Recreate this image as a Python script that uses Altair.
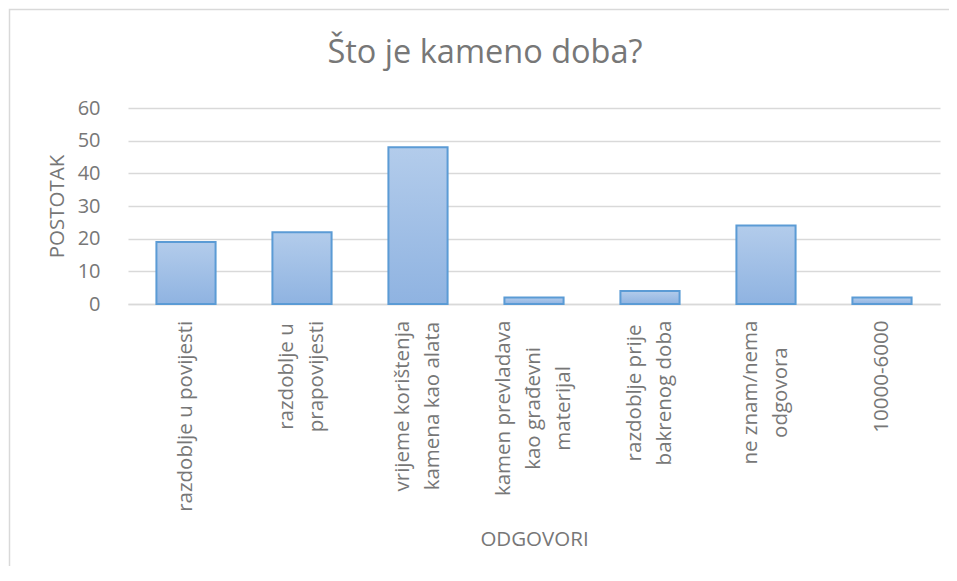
import altair as alt
import pandas as pd

# --- data ---
label_lines = [
    ["razdoblje u povijesti"],
    ["razdoblje u", "prapovijesti"],
    ["vrijeme korištenja", "kamena kao alata"],
    ["kamen prevladava", "kao građevni", "materijal"],
    ["razdoblje prije", "bakrenog doba"],
    ["ne znam/nema", "odgovora"],
    ["10000-6000"],
]
values = [19, 22, 48, 2, 4, 24, 2]
y_ticks = [0, 10, 20, 30, 40, 50, 60]

answers = ["|".join(l) for l in label_lines]
df = pd.DataFrame({"answer": answers, "value": values})

FONT = "Open Sans"
TXT = "#777777"
GRID = "#d9d9d9"
LINE_H = 30
LABEL_SIZE = 20.5
LABEL_GAP = 16

# approximate Open Sans advance widths (em), used to top-align the centred label blocks
_W = {
    "a": .556, "b": .613, "c": .480, "d": .613, "e": .561, "f": .336, "g": .546,
    "h": .614, "i": .258, "j": .258, "k": .529, "l": .258, "m": .930, "n": .614,
    "o": .602, "p": .613, "r": .408, "s": .479, "t": .353, "u": .614, "v": .500,
    "z": .463, " ": .260, "/": .371, "đ": .613, "š": .479, "-": .322,
}


def _width(s):
    return sum(_W.get(c, .572) for c in s) * LABEL_SIZE


n_lines = "length(split(datum.label, '|'))"
label_offset = {
    "condition": [
        {"test": f"{n_lines} == 2", "value": -LINE_H / 2},
        {"test": f"{n_lines} == 3", "value": -LINE_H},
    ],
    "value": 0,
}
label_padding = {
    "condition": [
        {"test": f"datum.value == '{a}'",
         "value": round(LABEL_GAP + max(_width(s) for s in l) / 2, 1)}
        for a, l in zip(answers, label_lines)
    ],
    "value": LABEL_GAP,
}

gradient = alt.Gradient(
    gradient="linear",
    stops=[
        alt.GradientStop(color="#b3cceb", offset=0),
        alt.GradientStop(color="#8fb3e1", offset=1),
    ],
    x1=0, x2=0, y1=0, y2=1,
)

bars = alt.Chart(df).mark_bar(color=gradient, stroke="#5b9bd5", strokeWidth=2).encode(
    x=alt.X(
        "answer:N",
        sort=None,
        scale=alt.Scale(paddingInner=0.49, paddingOuter=0.245),
        axis=alt.Axis(
            title="ODGOVORI",
            labelAngle=270,
            labelAlign="center",
            labelBaseline="middle",
            labelExpr="split(datum.label, '|')",
            labelOffset=label_offset,
            labelPadding=label_padding,
            labelLimit=500,
            labelLineHeight=LINE_H,
            labelFont=FONT,
            labelFontSize=LABEL_SIZE,
            labelColor=TXT,
            ticks=False,
            domainColor=GRID,
            domainWidth=1.5,
            titleFont=FONT,
            titleFontSize=20.5,
            titleFontWeight="normal",
            titleColor=TXT,
            titlePadding=25,
        ),
    ),
    y=alt.Y(
        "value:Q",
        scale=alt.Scale(domain=[0, 60]),
        axis=alt.Axis(
            title="POSTOTAK",
            values=y_ticks,
            ticks=False,
            domain=False,
            gridColor=GRID,
            gridWidth=1.5,
            labelPadding=28,
            labelFont=FONT,
            labelFontSize=20,
            labelColor=TXT,
            titleFont=FONT,
            titleFontSize=20.5,
            titleFontWeight="normal",
            titleColor=TXT,
            titlePadding=10,
        ),
    ),
)

border = alt.Chart(pd.DataFrame({"k": [0]})).mark_rect(
    fill="transparent", stroke=GRID, strokeWidth=1.5
).encode(
    x=alt.value(-118.5), x2=alt.value(1200),
    y=alt.value(-98.5), y2=alt.value(1200),
)

chart = alt.layer(border, bars).properties(
    width=812,
    height=196,
    autosize="none",
    padding={"left": 120, "top": 100, "right": 9, "bottom": 262},
    title=alt.Title(
        "Što je kameno doba?",
        font=FONT,
        fontSize=32.5,
        fontWeight="normal",
        color=TXT,
        anchor="middle",
        dx=-49,
        baseline="alphabetic",
        offset=-87,
    ),
).configure_view(strokeWidth=0)

chart.save("out.html", embed_options={"renderer": "svg", "actions": False})
